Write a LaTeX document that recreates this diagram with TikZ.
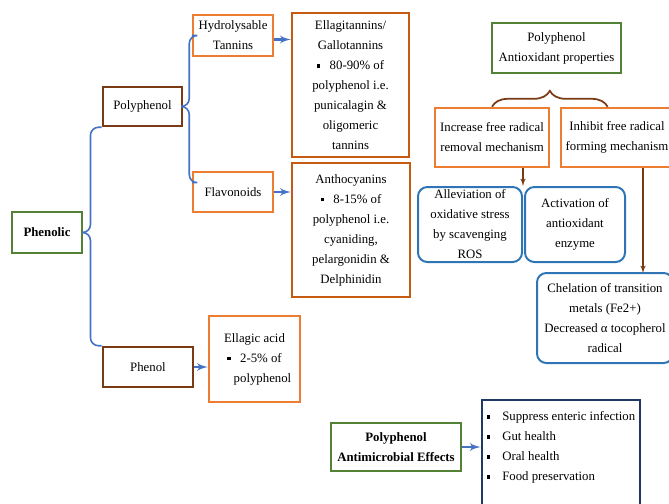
\documentclass[tikz,border=0pt]{standalone}
\usepackage{fontspec}
\setmainfont{Liberation Serif}
\usepackage{tikz}
\usetikzlibrary{arrows}
\usetikzlibrary{decorations.pathreplacing}

\definecolor{leafgreen}{HTML}{538135}
\definecolor{barkbrown}{HTML}{7A3A14}
\definecolor{orangeline}{HTML}{ED7D31}
\definecolor{rustline}{HTML}{C55A11}
\definecolor{blueline}{HTML}{2E75B6}
\definecolor{navyline}{HTML}{1F3864}
\definecolor{linkblue}{HTML}{4472C4}

\newcommand{\sqb}{\raisebox{0.3ex}{\rule{2.6pt}{2.6pt}}}

\begin{document}
\begin{tikzpicture}[x=0.75pt, y=-0.75pt]
			\tikzset{box/.style 2 args={shape = rectangle, draw, inner sep = 0pt, align = center,
					minimum width = #1*0.75pt, minimum height = #2*0.75pt,
					font = \fontsize{9.6}{15}\selectfont}}
			\tikzset{greenbox/.style={draw = leafgreen, line width = 2.2pt}}
			\tikzset{brownbox/.style={draw = barkbrown, line width = 1.9pt}}
			\tikzset{orangebox/.style={draw = orangeline, line width = 1.8pt}}
			\tikzset{rustbox/.style={draw = rustline, line width = 1.8pt}}
			\tikzset{roundbox/.style={draw = blueline, line width = 1.5pt, rounded corners = 7pt}}
			\tikzset{branch/.style={draw = linkblue, line width = 1.2pt, rounded corners = 6pt}}
			\tikzset{edge/.style={->, > = latex', draw = linkblue, line width = 1.8pt}}
			\tikzset{down edge/.style={->, > = latex', draw = barkbrown, line width = 0.9pt}}
			\tikzset{curly/.style={draw = barkbrown, line width = 1.3pt,
					decoration = {brace, amplitude = 12pt}, decorate}}
			\useasboundingbox (0, 0) rectangle (669, 504);
			\clip (0, 0) rectangle (669, 504);
			%classification
			\node[box = {70}{41}, greenbox, font = \fontsize{9.6}{15}\selectfont\bfseries] (phenolic) at (47, 232.5) {Phenolic};
			\node[box = {79}{39}, brownbox] (polyphenol) at (142.5, 106.5) {Polyphenol};
			\node[box = {90}{40}, brownbox] (phenol) at (148, 367) {Phenol};
			\node[box = {80}{41}, orangebox] (hydro) at (233, 35.5) {Hydrolysable\\Tannins};
			\node[box = {80}{40}, orangebox] (flavo) at (233, 192) {Flavonoids};
			\node[box = {117}{144}, rustbox] (ellagi) at (350.5, 85) {Ellagitannins/\\Gallotannins\\\sqb\hspace{7pt}80-90\% of\\polyphenol i.e.\\punicalagin \&\\oligomeric\\tannins};
			\node[box = {118}{134}, rustbox] (antho) at (351, 230) {Anthocyanins\\\sqb\hspace{7pt}8-15\% of\\polyphenol i.e.\\cyaniding,\\pelargonidin \&\\Delphinidin};
			\node[box = {91}{86}, orangebox] (ellagic) at (254.5, 359) {Ellagic acid\\\sqb\hspace{7pt}2-5\% of\\\hspace{12pt}polyphenol};
			%antioxidant
			\node[box = {129}{50}, greenbox] (antiox) at (556.5, 48) {Polyphenol\\Antioxidant properties};
			\node[box = {114}{59}, orangebox] (increase) at (492, 137.5) {Increase free radical\\removal mechanism};
			\node[box = {112}{59}, orangebox] (inhibit) at (617, 137.5) {Inhibit free radical\\forming mechanism};
			\node[box = {104}{75}, roundbox] (allev) at (470, 224.5) {Alleviation of\\oxidative stress\\by scavenging\\ROS};
			\node[box = {100}{75}, roundbox] (activ) at (575, 224.5) {Activation of\\antioxidant\\enzyme};
			\node[box = {136}{90}, roundbox] (chel) at (605, 318) {Chelation of transition\\metals (Fe2+)\\Decreased α tocopherol\\radical};
			\coordinate (chelin) at (643, 273);
			%antimicrobial
			\node[box = {130}{48}, greenbox, font = \fontsize{9.6}{15}\selectfont\bfseries] (antimic) at (396, 447) {Polyphenol\\Antimicrobial Effects};
			\node[box = {158}{116}, draw = navyline, line width = 2.2pt, align = left] (effects) at (561, 458) {\sqb\hspace{9pt}Suppress enteric infection\\\sqb\hspace{9pt}Gut health\\\sqb\hspace{9pt}Oral health\\\sqb\hspace{9pt}Food preservation\\[3pt]};
			%edges
			\draw[branch] (phenolic.east) -- ++(7, 0) |- (polyphenol.south west);
			\draw[branch] (phenolic.east) -- ++(7, 0) |- (phenol.north west);
			\draw[branch] (polyphenol.east) -- ++(6, 0) |- (hydro.west);
			\draw[branch] (polyphenol.east) -- ++(6, 0) |- ([yshift = 7]flavo.west);
			\draw[edge] ([yshift = -3]hydro.east) -- ([yshift = -3]hydro.east -| ellagi.west);
			\draw[edge] (flavo.east) -- (flavo.east -| antho.west);
			\draw[edge] (phenol.east) -- (phenol.east -| ellagic.west);
			\draw[edge] (antimic.east) -- (antimic.east -| effects.west);
			\draw[curly] (increase.north) -- ([xshift = -7]inhibit.north);
			\draw[down edge] (allev.north east |- increase.south) -- (allev.north east);
			\draw[down edge] (chelin |- inhibit.south) -- (chelin);
\end{tikzpicture}
\end{document}
